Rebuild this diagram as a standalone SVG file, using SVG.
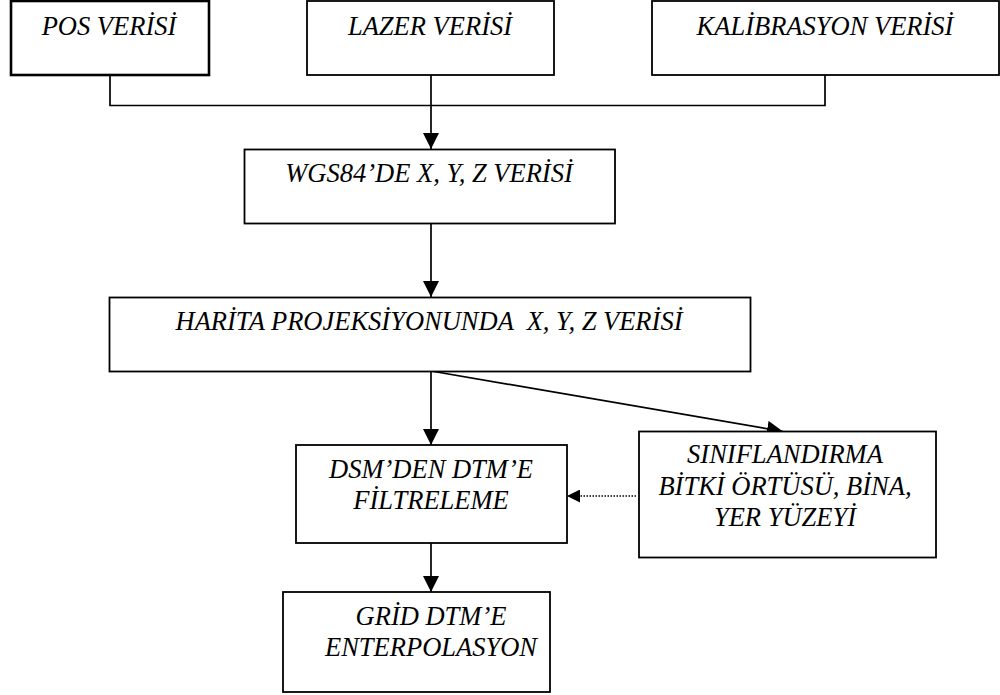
<svg xmlns="http://www.w3.org/2000/svg" width="1000" height="695" viewBox="0 0 1000 695">
<style>
.box{fill:#fff;stroke:#000;stroke-width:1.8}
.thick{stroke-width:2.6}
.t{font-family:'Liberation Serif','Times New Roman',serif;font-style:italic;font-size:26.5px;fill:#000;text-anchor:middle}
.c{fill:none;stroke:#000;stroke-width:1.7}
.dot{fill:none;stroke:#000;stroke-width:1.7;stroke-dasharray:1.5 1.5}
</style>
<defs>
<marker id="ah" markerUnits="userSpaceOnUse" markerWidth="16" markerHeight="16" viewBox="0 0 14 14" refX="14" refY="7" orient="auto">
<path d="M0,0 L14,7 L0,14 Z" fill="#000"/>
</marker>
<marker id="ahs" markerUnits="userSpaceOnUse" markerWidth="13" markerHeight="13" viewBox="0 0 12 12" refX="12" refY="6" orient="auto">
<path d="M0,0 L12,6 L0,12 Z" fill="#000"/>
</marker>
</defs>
<g id="connectors">
<polyline class="c" points="110,75 110,105.5 825,105.5 825,75"/>
<line class="c" x1="431" y1="75" x2="431" y2="149" marker-end="url(#ah)"/>
<line class="c" x1="431" y1="223" x2="431" y2="297" marker-end="url(#ah)"/>
<line class="c" x1="431" y1="371" x2="431" y2="445" marker-end="url(#ah)"/>
<line class="c" x1="431" y1="371" x2="783" y2="431.5" marker-end="url(#ah)"/>
<line class="dot" x1="636" y1="496" x2="567" y2="496" marker-end="url(#ahs)"/>
<line class="c" x1="431" y1="543" x2="431" y2="592" marker-end="url(#ah)"/>
</g>
<g id="pos">
<rect class="box thick" x="11" y="1" width="198" height="74"/>
<text class="t" x="109" y="35">POS VERİSİ</text>
</g>
<g id="lazer">
<rect class="box" x="307" y="1" width="247" height="74"/>
<text class="t" x="430" y="35">LAZER VERİSİ</text>
</g>
<g id="kalibrasyon">
<rect class="box" x="652" y="1" width="347" height="74"/>
<text class="t" x="825" y="35">KALİBRASYON VERİSİ</text>
</g>
<g id="wgs84">
<rect class="box" x="244.5" y="149.5" width="370.5" height="74"/>
<text class="t" x="429" y="182">WGS84’DE X, Y, Z VERİSİ</text>
</g>
<g id="harita">
<rect class="box" x="109.5" y="297.5" width="641" height="74"/>
<text class="t" x="429" y="330" xml:space="preserve">HARİTA PROJEKSİYONUNDA  X, Y, Z VERİSİ</text>
</g>
<g id="dsm">
<rect class="box" x="296" y="445" width="271" height="98"/>
<text class="t" x="431" y="478">DSM’DEN DTM’E</text>
<text class="t" x="431" y="509">FİLTRELEME</text>
</g>
<g id="siniflandirma">
<rect class="box" x="639" y="431.5" width="297" height="126"/>
<text class="t" x="785" y="463">SINIFLANDIRMA</text>
<text class="t" x="785" y="495">BİTKİ ÖRTÜSÜ, BİNA,</text>
<text class="t" x="785" y="526">YER YÜZEYİ</text>
</g>
<g id="grid">
<rect class="box" x="283" y="592" width="267" height="100"/>
<text class="t" x="431" y="625">GRİD DTM’E</text>
<text class="t" x="431" y="656">ENTERPOLASYON</text>
</g>
</svg>
